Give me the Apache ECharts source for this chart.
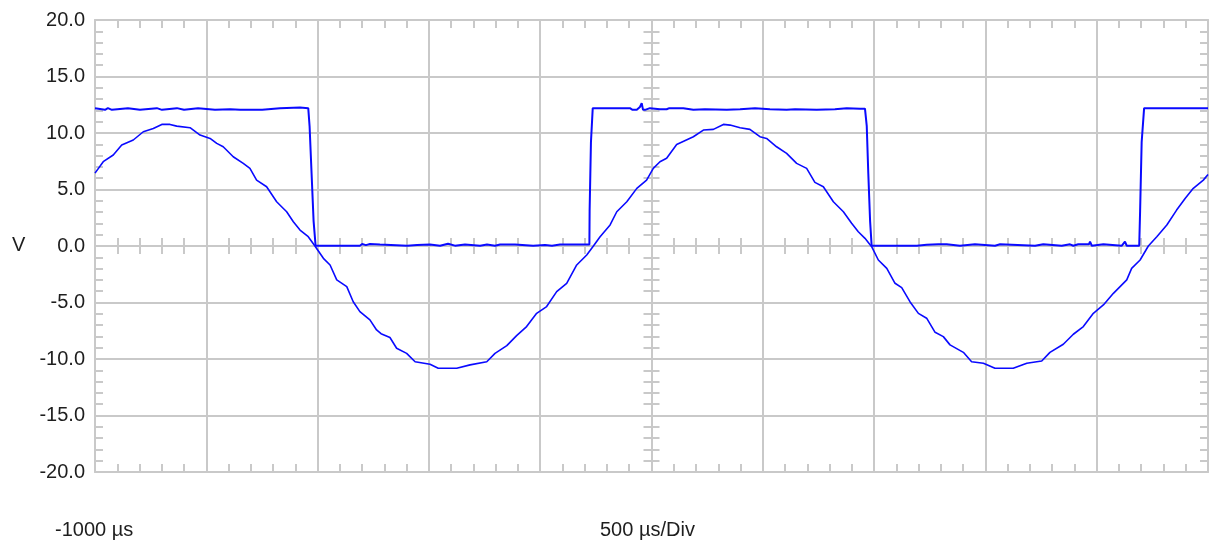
<!DOCTYPE html>
<html>
<head>
<meta charset="utf-8">
<script src="https://cdn.jsdelivr.net/npm/echarts@6/dist/echarts.min.js"></script>
<style>
  html, body { margin: 0; padding: 0; background: #ffffff; }
  #scope { width: 1212px; height: 547px; }
</style>
</head>
<body>
<div id="scope"></div>
<script>
// Time base (µs) and vertical scale (V)
const T_MIN = -1000;
const T_MAX = 4000;
const T_DIV = 500;
const V_MIN = -20;
const V_MAX = 20;
const V_DIV = 5;

// Channel A: sine input (time in µs, level in V)
const sineTime = [
  -1000, -963, -918, -880, -828, -783, -738, -700, -663, -633, -573, -528, -483, -453, -424,
  -379, -334, -304, -274, -229, -184, -139, -109, -79, -42, -12, 26, 56, 86, 131,
  160, 190, 235, 265, 285, 325, 355, 400, 438, 505, 542, 625, 685, 760, 797,
  850, 894, 939, 984, 1029, 1074, 1119, 1164, 1209, 1239, 1269, 1314, 1344, 1389, 1434,
  1478, 1508, 1538, 1568, 1613, 1688, 1733, 1778, 1823, 1853, 1898, 1942, 1987, 2017, 2062,
  2107, 2152, 2197, 2234, 2272, 2317, 2362, 2399, 2429, 2459, 2489, 2519, 2557, 2594, 2624,
  2661, 2699, 2736, 2774, 2811, 2841, 2901, 2938, 2991, 3043, 3125, 3186, 3253, 3290, 3350,
  3395, 3440, 3485, 3530, 3575, 3635, 3657, 3695, 3732, 3770, 3815, 3859, 3898, 3934, 3979,
  4000
];
const sineVolts = [
  6.45, 7.46, 8.05, 8.93, 9.38, 10.11, 10.40, 10.76, 10.76, 10.61, 10.47, 9.82, 9.52, 9.08, 8.78,
  7.90, 7.31, 6.87, 5.83, 5.24, 3.92, 3.03, 2.15, 1.41, 0.82, 0.00, -1.09, -1.68, -3.00, -3.60,
  -4.93, -5.81, -6.54, -7.43, -7.76, -8.10, -9.05, -9.50, -10.24, -10.47, -10.82, -10.82, -10.52, -10.24, -9.50,
  -8.82, -7.93, -7.13, -5.96, -5.36, -4.04, -3.30, -1.68, -0.80, 0.00, 0.82, 1.86, 3.03, 3.92, 5.10,
  5.83, 6.87, 7.46, 7.76, 8.99, 9.67, 10.26, 10.32, 10.76, 10.70, 10.47, 10.32, 9.67, 9.52, 8.78,
  8.20, 7.31, 6.87, 5.63, 5.24, 3.92, 3.03, 2.01, 1.26, 0.68, -0.06, -1.24, -1.98, -3.30, -3.69,
  -4.93, -5.96, -6.39, -7.64, -8.02, -8.75, -9.41, -10.24, -10.37, -10.82, -10.82, -10.37, -10.18, -9.41, -8.69,
  -7.81, -7.13, -5.96, -5.22, -4.19, -3.00, -1.98, -1.24, 0.00, 0.82, 1.86, 3.18, 4.22, 5.10, 5.83,
  6.32
];

// Channel B: comparator output (time in µs, level in V)
const squareTime = [
  -1000, -955, -942, -924, -852, -798, -722, -699, -632, -600, -537, -461, -393, -348, -249,
  -169, -79, -42, -36, -27, -18, -9,
  190, 200, 217, 235, 280, 402, 447, 505, 550, 586, 617, 662, 730, 761,
  797, 820, 887, 968, 1022, 1053, 1089, 1212, 1221, 1222, 1228, 1236,
  1254, 1403, 1415, 1434, 1448, 1456, 1462, 1471, 1493, 1538, 1568, 1580, 1643, 1688, 1740,
  1838, 1898, 1965, 2032, 2107, 2145, 2242, 2324, 2377, 2437, 2459, 2467, 2474, 2482, 2489,
  2692, 2700, 2736, 2788, 2796, 2826, 2886, 2953, 3043, 3066, 3223, 3260, 3343, 3380, 3395,
  3417, 3465, 3470, 3478, 3530, 3612, 3620, 3627, 3635, 3691, 3695, 3702, 3713, 3730, 4000
];
const squareVolts = [
  12.2, 12.05, 12.2, 12.05, 12.2, 12.05, 12.2, 12.05, 12.2, 12.05, 12.2, 12.05, 12.1, 12.05, 12.05,
  12.2, 12.25, 12.2, 10.6, 6.4, 2.2, 0.02,
  0.02, 0.17, 0.08, 0.17, 0.13, 0.03, 0.08, 0.13, 0.03, 0.2, 0.03, 0.13, 0.03, 0.13,
  0.03, 0.13, 0.13, 0.03, 0.08, 0.03, 0.13, 0.13, 0.13, 3.1, 9.2, 12.2,
  12.2, 12.2, 12.05, 12.05, 12.3, 12.63, 12.05, 12.05, 12.2, 12.1, 12.1, 12.2, 12.2, 12.05, 12.1,
  12.05, 12.1, 12.2, 12.1, 12.05, 12.1, 12.05, 12.1, 12.2, 12.15, 12.15, 10.6, 6.4, 2.2, 0.02,
  0.02, 0.15, 0.1, 0.15, 0.02, 0.15, 0.02, 0.15, 0.02, 0.15, 0.02, 0.15, 0.02, 0.15, 0.02,
  0.15, 0.15, 0.38, 0.02, 0.15, 0.02, 0.02, 0.38, 0.02, 0.02, 3.1, 9.2, 12.2, 12.2, 12.2
];

const TRACE = '#0a0aff';
const GRID_COLOR = '#c9c9c9';
const TEXT_COLOR = '#1e1e1e';
const FONT = '"Liberation Sans", Arial, sans-serif';

const pairs = (xs, ys) => xs.map((x, i) => [x, ys[i]]);

const gridLine = { color: GRID_COLOR, width: 2 };
const minor = { show: true, splitNumber: 5, length: 8, lineStyle: { color: GRID_COLOR, width: 2 } };

// Frame axes carry the border and inward minor ticks; crosshair axes sit on the centre lines.
function timeAxis(extra) {
  return Object.assign({
    type: 'value', min: T_MIN, max: T_MAX, interval: T_DIV,
    axisLine: { show: false, onZero: false },
    axisTick: { show: false, inside: true },
    minorTick: minor,
    splitLine: { show: false },
    axisLabel: { show: false }
  }, extra);
}
function voltAxis(extra) {
  return Object.assign({
    type: 'value', min: V_MIN, max: V_MAX, interval: V_DIV,
    axisLine: { show: false, onZero: false },
    axisTick: { show: false, inside: true },
    minorTick: minor,
    splitLine: { show: false },
    axisLabel: { show: false }
  }, extra);
}

const half = (T_MAX - T_MIN) / 2;

const option = {
  animation: false,
  backgroundColor: '#ffffff',
  grid: { left: 95, right: 4, top: 20, bottom: 75, containLabel: false },
  xAxis: [
    timeAxis({ position: 'bottom', axisLine: { show: true, onZero: false, lineStyle: gridLine },
               splitLine: { show: true, lineStyle: gridLine } }),
    timeAxis({ position: 'top', axisLine: { show: true, onZero: false, lineStyle: gridLine } }),
    timeAxis({ position: 'bottom', axisLine: { show: false, onZero: true, onZeroAxisIndex: 0 },
               axisTick: { show: false, inside: true } }),
    timeAxis({ position: 'bottom', axisLine: { show: false, onZero: true, onZeroAxisIndex: 0 },
               axisTick: { show: false, inside: false } }),
    // centred time reference, used only to place the vertical crosshair
    { type: 'value', show: false, min: -half, max: half, axisLine: { onZero: false } }
  ],
  yAxis: [
    voltAxis({ position: 'left', axisLine: { show: true, onZero: false, lineStyle: gridLine },
               splitLine: { show: true, lineStyle: gridLine },
               axisLabel: { show: true, margin: 10, color: TEXT_COLOR, fontSize: 20, fontFamily: FONT,
                            formatter: v => v.toFixed(1) } }),
    voltAxis({ position: 'right', axisLine: { show: true, onZero: false, lineStyle: gridLine } }),
    voltAxis({ position: 'left', axisLine: { show: false, onZero: true, onZeroAxisIndex: 4 },
               axisTick: { show: false, inside: true } }),
    voltAxis({ position: 'left', axisLine: { show: false, onZero: true, onZeroAxisIndex: 4 },
               axisTick: { show: false, inside: false } })
  ],
  graphic: [
    { type: 'text', x: 12, y: 245, style: { text: 'V', fill: TEXT_COLOR, fontSize: 20, fontFamily: FONT, verticalAlign: 'middle' } },
    { type: 'text', x: 55, y: 530, style: { text: T_MIN + ' µs', fill: TEXT_COLOR, fontSize: 20, fontFamily: FONT, verticalAlign: 'middle' } },
    { type: 'text', x: 600, y: 530, style: { text: T_DIV + ' µs/Div', fill: TEXT_COLOR, fontSize: 20, fontFamily: FONT, verticalAlign: 'middle' } }
  ],
  series: [
    {
      name: 'Sine', type: 'line', xAxisIndex: 0, yAxisIndex: 0,
      data: pairs(sineTime, sineVolts),
      showSymbol: false, symbol: 'none', clip: true,
      lineStyle: { color: TRACE, width: 1.6 }
    },
    {
      name: 'Square', type: 'line', xAxisIndex: 0, yAxisIndex: 0,
      data: pairs(squareTime, squareVolts),
      showSymbol: false, symbol: 'none', clip: true,
      lineStyle: { color: TRACE, width: 2 }
    }
  ]
};

const chart = echarts.init(document.getElementById('scope'), null, { renderer: 'canvas' });
chart.setOption(option);
</script>
</body>
</html>
